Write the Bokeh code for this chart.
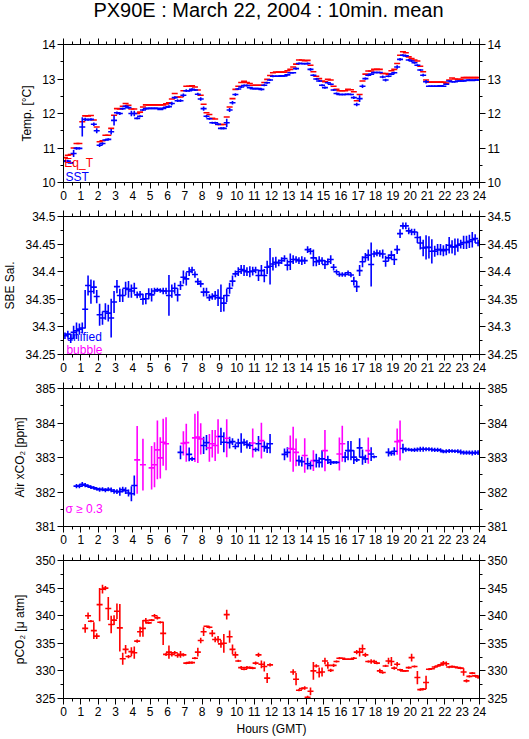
import numpy as np
from bokeh.plotting import figure
from bokeh.models import LinearAxis, FixedTicker, Label, ColumnDataSource, Range1d, Div
from bokeh.layouts import column
from bokeh.embed import file_html
from bokeh.resources import INLINE

nan = float("nan")
FONT = "Liberation Sans"
BLUE, RED, MAGENTA = "#0000ff", "#ff0000", "#ff00ff"

title_text = "PX90E : March 22, 2004 : 10min. mean"
x_title = "Hours (GMT)"

# centres of the 10-minute bins (minutes after 00:00 GMT)
bin_centre_min = list(range(5, 1440, 10))

hour_ticks = list(range(25))
hour_minor_ticks = [0.5, 1.5, 2.5, 3.5, 4.5, 5.5, 6.5, 7.5, 8.5, 9.5, 10.5, 11.5,
                    12.5, 13.5, 14.5, 15.5, 16.5, 17.5, 18.5, 19.5, 20.5, 21.5, 22.5, 23.5]

temp_ticks = [10, 11, 12, 13, 14]
temp_minor = [10.5, 11.5, 12.5, 13.5]
temp_labels = ["10", "11", "12", "13", "14"]
sal_ticks = [34.25, 34.3, 34.35, 34.4, 34.45, 34.5]
sal_minor = [34.275, 34.325, 34.375, 34.425, 34.475]
sal_labels = ["34.25", "34.3", "34.35", "34.4", "34.45", "34.5"]
xco2_ticks = [381, 382, 383, 384, 385]
xco2_minor = [381.5, 382.5, 383.5, 384.5]
xco2_labels = ["381", "382", "383", "384", "385"]
pco2_ticks = [325, 330, 335, 340, 345, 350]
pco2_minor = [327.5, 332.5, 337.5, 342.5, 347.5]
pco2_labels = ["325", "330", "335", "340", "345", "350"]

# ---- Panel 1 : temperatures (one row per hour, 6 ten-minute bins) ----
eq_t = [
    10.72, 10.79, 10.81, 11.00, 11.13, 11.13,
    11.76, 11.93, 11.93, 11.94, 11.81, 11.61,
    11.18, 11.21, 11.37, 11.37, 11.57, 11.95,
    12.14, 12.13, 12.21, 12.29, 12.24, 12.13,
    12.13, 12.00, 12.04, 12.19, 12.25, 12.25,
    12.25, 12.25, 12.25, 12.25, 12.25, 12.28,
    12.31, 12.42, 12.58, 12.48, 12.48, 12.66,
    12.79, 12.79, 12.80, 12.77, 12.68, 12.53,
    12.27, 12.02, 11.97, 11.86, 11.84, 11.68,
    11.68, 11.68, 11.90, 12.19, 12.43, 12.70,
    12.79, 12.90, 12.93, 12.90, 12.87, 12.82,
    12.82, 12.82, 12.82, 12.90, 12.99, 13.10,
    13.18, 13.20, 13.20, 13.20, 13.20, 13.24,
    13.28, 13.35, 13.43, 13.55, 13.55, 13.53,
    13.54, 13.40, 13.21, 13.08, 13.01, 12.94,
    12.92, 12.99, 12.97, 12.79, 12.70, 12.66,
    12.66, 12.66, 12.70, 12.69, 12.63, 12.37,
    12.55, 12.94, 13.14, 13.23, 13.23, 13.28,
    13.28, 13.28, 13.16, 13.16, 13.14, 13.24,
    13.28, 13.45, 13.69, 13.79, 13.76, 13.64,
    13.59, 13.55, 13.52, 13.37, 13.21, 12.97,
    12.91, 12.91, 12.91, 12.91, 12.91, 12.91,
    12.88, 12.97, 13.03, 13.00, 12.99, 12.99,
    13.04, 13.04, 13.04, 13.04, 13.04, 13.04,
]
sst = [
    10.62, 10.62, 10.57, 10.84, 10.99, 10.99,
    11.61, 11.83, 11.82, 11.83, 11.69, 11.50,
    11.08, 11.13, 11.23, 11.25, 11.47, 11.80,
    12.02, 12.00, 12.14, 12.21, 12.17, 12.00,
    12.00, 11.86, 11.92, 12.10, 12.14, 12.15,
    12.15, 12.15, 12.15, 12.12, 12.15, 12.18,
    12.20, 12.29, 12.46, 12.37, 12.37, 12.53,
    12.66, 12.66, 12.70, 12.68, 12.56, 12.42,
    12.14, 11.92, 11.85, 11.73, 11.73, 11.69,
    11.57, 11.57, 11.73, 12.10, 12.31, 12.55,
    12.71, 12.77, 12.81, 12.81, 12.75, 12.72,
    12.72, 12.72, 12.70, 12.82, 12.89, 12.97,
    13.08, 13.08, 13.08, 13.09, 13.09, 13.12,
    13.18, 13.18, 13.30, 13.45, 13.45, 13.44,
    13.45, 13.28, 13.11, 13.00, 12.94, 12.82,
    12.75, 12.89, 12.85, 12.68, 12.58, 12.55,
    12.55, 12.55, 12.56, 12.55, 12.46, 12.26,
    12.43, 12.79, 13.01, 13.11, 13.14, 13.19,
    13.19, 13.19, 13.06, 12.97, 13.08, 13.14,
    13.18, 13.35, 13.57, 13.69, 13.67, 13.55,
    13.52, 13.47, 13.40, 13.26, 13.11, 12.92,
    12.79, 12.79, 12.79, 12.79, 12.80, 12.79,
    12.85, 12.94, 12.92, 12.92, 12.94, 12.94,
    12.94, 12.96, 12.97, 12.96, 12.97, 12.97,
]
sst_sd = [
    0.03, 0.04, 0.03, 0.10, 0.04, 0.03,
    0.28, 0.05, 0.03, 0.03, 0.05, 0.07,
    0.05, 0.04, 0.03, 0.03, 0.08, 0.15,
    0.04, 0.04, 0.03, 0.04, 0.03, 0.08,
    0.08, 0.03, 0.03, 0.03, 0.03, 0.02,
    0.02, 0.02, 0.02, 0.02, 0.03, 0.03,
    0.04, 0.05, 0.04, 0.04, 0.04, 0.05,
    0.04, 0.03, 0.03, 0.03, 0.04, 0.05,
    0.06, 0.04, 0.03, 0.03, 0.03, 0.03,
    0.03, 0.03, 0.12, 0.06, 0.05, 0.04,
    0.03, 0.03, 0.03, 0.03, 0.02, 0.02,
    0.02, 0.02, 0.03, 0.03, 0.03, 0.03,
    0.03, 0.02, 0.02, 0.02, 0.02, 0.02,
    0.02, 0.02, 0.03, 0.03, 0.02, 0.02,
    0.03, 0.04, 0.03, 0.03, 0.03, 0.03,
    0.03, 0.03, 0.03, 0.03, 0.03, 0.02,
    0.02, 0.02, 0.02, 0.02, 0.04, 0.05,
    0.10, 0.05, 0.03, 0.03, 0.02, 0.02,
    0.02, 0.02, 0.04, 0.04, 0.03, 0.03,
    0.03, 0.05, 0.04, 0.03, 0.03, 0.03,
    0.03, 0.03, 0.03, 0.03, 0.04, 0.05,
    0.02, 0.02, 0.02, 0.02, 0.02, 0.02,
    0.02, 0.02, 0.02, 0.02, 0.02, 0.02,
    0.02, 0.02, 0.02, 0.02, 0.02, 0.02,
]

# ---- Panel 2 : SBE salinity ----
sal = [
    34.284, 34.287, 34.279, 34.290, 34.293, 34.296,
    34.298, 34.332, 34.375, 34.364, 34.372, 34.355,
    34.322, 34.316, 34.328, 34.325, 34.316, 34.345,
    34.373, 34.357, 34.357, 34.370, 34.368, 34.365,
    34.370, 34.358, 34.359, 34.350, 34.351, 34.360,
    34.358, 34.365, 34.367, 34.366, 34.365, 34.365,
    34.357, 34.365, 34.370, 34.358, 34.375, 34.390,
    34.387, 34.400, 34.403, 34.395, 34.382, 34.378,
    34.363, 34.363, 34.353, 34.355, 34.357, 34.353,
    34.352, 34.343, 34.357, 34.370, 34.383, 34.396,
    34.400, 34.404, 34.402, 34.400, 34.400, 34.401,
    34.403, 34.393, 34.402, 34.393, 34.408, 34.410,
    34.414, 34.417, 34.416, 34.420, 34.424, 34.412,
    34.418, 34.422, 34.422, 34.420, 34.420, 34.420,
    34.440, 34.437, 34.425, 34.418, 34.420, 34.420,
    34.413, 34.418, 34.422, 34.408, 34.400, 34.395,
    34.395, 34.395, 34.398, 34.394, 34.383, 34.373,
    34.402, 34.418, 34.426, 34.430, 34.413, 34.432,
    34.434, 34.433, 34.432, 34.419, 34.425, 34.430,
    34.422, 34.440, 34.469, 34.483, 34.483, 34.474,
    34.472, 34.472, 34.462, 34.452, 34.443, 34.444,
    34.444, 34.437, 34.437, 34.440, 34.440, 34.438,
    34.440, 34.448, 34.445, 34.445, 34.448, 34.450,
    34.453, 34.453, 34.455, 34.458, 34.460, 34.452,
]
sal_sd = [
    0.006, 0.006, 0.008, 0.012, 0.015, 0.010,
    0.010, 0.035, 0.018, 0.022, 0.012, 0.012,
    0.020, 0.012, 0.015, 0.015, 0.035, 0.020,
    0.012, 0.012, 0.012, 0.012, 0.015, 0.012,
    0.010, 0.006, 0.006, 0.010, 0.010, 0.010,
    0.012, 0.006, 0.004, 0.004, 0.006, 0.006,
    0.037, 0.012, 0.010, 0.012, 0.008, 0.012,
    0.012, 0.008, 0.006, 0.006, 0.006, 0.006,
    0.008, 0.008, 0.006, 0.006, 0.008, 0.015,
    0.025, 0.015, 0.012, 0.010, 0.010, 0.006,
    0.008, 0.008, 0.010, 0.008, 0.010, 0.008,
    0.006, 0.010, 0.010, 0.012, 0.012, 0.033,
    0.012, 0.010, 0.006, 0.006, 0.006, 0.010,
    0.015, 0.008, 0.006, 0.006, 0.008, 0.006,
    0.006, 0.006, 0.015, 0.008, 0.008, 0.006,
    0.008, 0.006, 0.008, 0.006, 0.004, 0.004,
    0.004, 0.004, 0.004, 0.004, 0.008, 0.010,
    0.010, 0.010, 0.008, 0.010, 0.040, 0.006,
    0.006, 0.006, 0.008, 0.010, 0.006, 0.008,
    0.010, 0.008, 0.008, 0.006, 0.006, 0.006,
    0.006, 0.006, 0.010, 0.012, 0.015, 0.022,
    0.020, 0.022, 0.010, 0.010, 0.010, 0.010,
    0.010, 0.015, 0.012, 0.015, 0.012, 0.008,
    0.012, 0.012, 0.012, 0.014, 0.008, 0.006,
]

# ---- Panel 3 : air xCO2 ----
xco2 = [
    nan, nan, nan, nan, 382.17, 382.17,
    382.22, 382.20, 382.17, 382.14, 382.12, 382.09,
    382.07, 382.08, 382.05, 382.08, 382.06, 382.02,
    382.01, 382.01, 382.07, 382.04, 381.97, 381.95,
    382.19, 382.93, nan, 382.79, nan, nan,
    382.70, 382.79, 383.22, 382.99, 383.44, 383.40,
    nan, nan, nan, nan, 383.15, 383.41,
    383.43, 383.09, 382.96, 383.57, 383.59, 383.54,
    383.35, 383.43, 383.28, 383.40, 383.35, 383.61,
    383.61, 383.44, 383.56, 383.43, 383.46, 383.32,
    383.42, 383.42, 383.44, 383.38, 383.35, 383.42,
    383.23, 383.40, 383.49, 383.32, 383.28, 383.40,
    nan, nan, nan, nan, 383.09, 383.15,
    383.26, 383.24, 383.15, 382.91, 382.88, 383.06,
    382.82, 382.77, 382.91, 382.91, 382.86, 382.96,
    383.20, 382.93, 382.86, 382.86, 382.86, 383.10,
    383.40, 383.01, 383.20, 383.20, 383.01, 382.93,
    383.28, 383.01, 382.96, 383.20, 383.10, 383.02,
    nan, nan, nan, nan, 383.15, 383.12,
    383.18, 383.46, 383.49, 383.26, 383.23, 383.23,
    383.22, 383.22, 383.23, 383.24, 383.24, 383.24,
    383.24, 383.23, 383.22, 383.22, 383.21, 383.17,
    383.18, 383.19, 383.19, 383.18, 383.18, 383.16,
    383.14, 383.14, 383.14, 383.13, 383.14, 383.14,
]
xco2_sd = [
    nan, nan, nan, nan, 0.06, 0.06,
    0.07, 0.06, 0.05, 0.05, 0.05, 0.05,
    0.06, 0.06, 0.06, 0.06, 0.07, 0.07,
    0.07, 0.12, 0.08, 0.10, 0.10, 0.22,
    0.29, 0.98, nan, 0.75, nan, nan,
    0.63, 0.65, 0.85, 0.60, 0.68, 0.77,
    nan, nan, nan, nan, 0.20, 0.35,
    0.55, 0.20, 0.06, 0.70, 0.75, 0.45,
    0.25, 0.22, 0.40, 0.40, 0.45, 0.50,
    0.25, 0.29, 0.55, 0.17, 0.10, 0.08,
    0.12, 0.28, 0.10, 0.12, 0.10, 0.42,
    0.06, 0.22, 0.52, 0.15, 0.15, 0.28,
    nan, nan, nan, nan, 0.17, 0.15,
    0.38, 0.65, 0.40, 0.15, 0.14, 0.50,
    0.17, 0.12, 0.30, 0.20, 0.15, 0.25,
    0.60, 0.12, 0.08, 0.04, 0.04, 0.48,
    0.52, 0.15, 0.28, 0.28, 0.20, 0.06,
    0.28, 0.22, 0.12, 0.38, 0.20, 0.04,
    nan, nan, nan, nan, 0.12, 0.07,
    0.12, 0.38, 0.58, 0.14, 0.06, 0.05,
    0.05, 0.06, 0.06, 0.07, 0.07, 0.06,
    0.06, 0.06, 0.06, 0.06, 0.06, 0.05,
    0.06, 0.06, 0.05, 0.05, 0.06, 0.07,
    0.06, 0.06, 0.06, 0.07, 0.07, 0.07,
]
sigma_limit = 0.3

# ---- Panel 4 : seawater pCO2 ----
pco2 = [
    nan, nan, nan, nan, nan, nan,
    nan, 337.7, 340.0, 339.0, 337.3, 336.3,
    342.0, 344.8, 345.0, 341.3, 338.4, 339.2,
    340.8, 337.8, 332.2, 333.9, 332.6, 333.5,
    333.3, 335.4, 337.1, 337.7, 339.1, 338.7,
    339.2, 340.0, 339.6, 338.8, 336.8, 333.0,
    333.4, 333.0, 333.3, 332.8, 333.0, 332.9,
    331.4, 331.5, 331.5, 332.3, 333.4, 335.5,
    337.1, 338.1, 337.9, 336.8, 335.7, 335.7,
    334.9, 335.0, 340.2, 336.2, 333.9, 332.9,
    331.8, 330.6, 330.3, 330.6, 330.6, 330.5,
    331.4, 332.9, 331.2, 330.8, 328.7, 331.1,
    nan, nan, nan, nan, nan, nan,
    nan, 329.8, 328.5, 326.5, 326.8, 326.9,
    325.2, 326.3, 330.0, 330.9, 329.7, 329.8,
    331.8, 331.0, 330.1, 331.0, 331.7, 332.3,
    332.3, 332.1, 332.1, 332.1, 332.3, 333.4,
    333.4, 334.0, 332.9, 331.7, 331.7, 331.7,
    331.4, 330.0, 329.7, 330.9, 331.8, 331.7,
    330.5, 331.2, 330.2, 330.0, 330.0, 330.6,
    332.4, 330.8, 328.8, 326.6, 326.7, 327.9,
    330.3, 330.4, 330.7, 330.9, 331.1, 331.4,
    331.3, 330.7, 330.8, 330.7, 330.6, 330.5,
    329.8, 328.2, 329.0, 329.6, 329.1, 328.9,
]
pco2_sd = [
    nan, nan, nan, nan, nan, nan,
    nan, 0.8, 0.6, 0.2, 1.5, 0.5,
    3.0, 0.8, 0.4, 2.1, 1.6, 0.9,
    1.4, 4.3, 1.1, 0.8, 0.3, 0.8,
    1.1, 0.3, 0.9, 1.5, 0.5, 0.2,
    0.2, 0.3, 0.3, 0.2, 2.1, 0.3,
    1.2, 0.4, 0.3, 0.4, 0.6, 0.3,
    0.2, 0.2, 0.2, 0.2, 0.8, 0.5,
    0.8, 0.1, 0.2, 0.6, 0.5, 0.6,
    0.7, 1.7, 0.9, 1.1, 0.9, 0.6,
    0.2, 0.3, 0.2, 0.3, 0.2, 0.2,
    0.3, 0.4, 0.7, 0.9, 0.9, 0.3,
    nan, nan, nan, nan, nan, nan,
    nan, 0.5, 1.1, 0.2, 0.2, 0.3,
    0.3, 0.7, 1.6, 0.3, 0.9, 0.8,
    0.6, 0.6, 0.3, 0.3, 0.2, 0.2,
    0.1, 0.1, 0.1, 0.1, 0.2, 0.4,
    0.8, 0.8, 0.4, 0.2, 0.4, 0.3,
    0.2, 0.4, 0.2, 0.2, 0.6, 0.8,
    0.3, 0.4, 0.2, 0.1, 0.1, 0.2,
    0.7, 0.2, 1.2, 0.2, 0.2, 1.2,
    0.2, 0.1, 0.2, 0.2, 0.2, 0.4,
    0.4, 0.2, 0.2, 0.1, 0.1, 0.2,
    0.7, 0.3, 0.2, 0.2, 0.2, 0.3,
]

hours = np.array(bin_centre_min, dtype=float) / 60.0


def style_axis(ax, show_labels=True, font_size="12px"):
    ax.axis_line_color = "black"
    ax.axis_line_width = 1
    ax.major_tick_line_color = "black"
    ax.minor_tick_line_color = "black"
    ax.major_tick_in = 0
    ax.major_tick_out = 6
    ax.minor_tick_in = 0
    ax.minor_tick_out = 3
    ax.major_label_text_font = FONT
    ax.major_label_text_color = "black"
    ax.axis_label_text_font = FONT
    ax.axis_label_text_font_size = "12px"
    ax.axis_label_text_font_style = "normal"
    ax.axis_label_text_color = "black"
    if show_labels:
        ax.major_label_standoff = 2
        ax.major_label_text_font_size = font_size
    else:
        ax.major_label_standoff = 0
        ax.major_label_text_font_size = "1px"
        ax.major_label_text_color = None


LEFT, FRAME_W, RIGHT, FRAME_H = 58, 421, 50, 138
TITLE_H = 20


def make_panel(y_lo, y_hi, yticks, yminor, ylabels, ytitle, top, bottom,
               xtitle=None, ytitle_standoff=5, xtitle_standoff=3):
    p = figure(width=LEFT + FRAME_W + RIGHT, height=top + FRAME_H + bottom,
               x_range=Range1d(0, 24), y_range=Range1d(y_lo, y_hi),
               x_axis_type=None, y_axis_type=None,
               output_backend="svg", toolbar_location=None,
               min_border_left=LEFT, min_border_right=RIGHT,
               min_border_top=top, min_border_bottom=bottom,
               background_fill_color="white", border_fill_color="white")
    p.outline_line_color = "black"
    p.outline_line_width = 1
    overrides = dict(zip(yticks, ylabels))
    xt = FixedTicker(ticks=hour_ticks, minor_ticks=hour_minor_ticks)
    yt = FixedTicker(ticks=yticks, minor_ticks=yminor)

    xb = LinearAxis(ticker=xt)
    style_axis(xb, True, "12px")
    if xtitle:
        xb.axis_label = xtitle
        xb.axis_label_standoff = xtitle_standoff
    p.add_layout(xb, "below")
    xa = LinearAxis(ticker=xt)
    style_axis(xa, False)
    p.add_layout(xa, "above")

    yl = LinearAxis(ticker=yt, axis_label=ytitle, major_label_overrides=overrides)
    style_axis(yl, True, "12px")
    yl.axis_label_standoff = ytitle_standoff
    p.add_layout(yl, "left")
    yr = LinearAxis(ticker=yt, major_label_overrides=overrides)
    style_axis(yr, True, "12px")
    p.add_layout(yr, "right")
    return p


def draw_marks(p, vals, sds, colors, with_bars=True):
    v = np.array(vals, dtype=float)
    src = ColumnDataSource(dict(t=hours, v=v, c=colors))
    if with_bars:
        s = np.array(sds, dtype=float)
        src.data["lo"] = v - s
        src.data["hi"] = v + s
        p.segment(x0="t", y0="lo", x1="t", y1="hi", line_color="c",
                  line_width=1.6, source=src)
    p.scatter(x="t", y="v", marker="dash", size=6, line_color="c",
              line_width=1.6, source=src)


def add_text(p, x, y, text, color):
    p.add_layout(Label(x=x, y=y, text=text, text_color=color, text_font=FONT,
                       text_font_size="12px", text_baseline="alphabetic"))


n = len(bin_centre_min)

# Page title (centred over the plotting frames)
title_div = Div(text=title_text, width=LEFT + FRAME_W + RIGHT, height=TITLE_H,
                margin=(0, 0, 0, 0),
                styles={"font-family": FONT, "font-size": "20px",
                        "line-height": "20px", "text-align": "center",
                        "text-indent": "8px", "color": "black",
                        "white-space": "nowrap", "overflow": "visible"})

# Panel 1
p1 = make_panel(10, 14, temp_ticks, temp_minor, temp_labels, "Temp. [°C]",
                top=44 - TITLE_H, bottom=24)
draw_marks(p1, eq_t, None, [RED] * n, with_bars=False)
draw_marks(p1, sst, sst_sd, [BLUE] * n)
add_text(p1, 0.05, 10.565, "Eq_T", RED)
add_text(p1, 0.12, 10.145, "SST", BLUE)

# Panel 2
p2 = make_panel(34.25, 34.5, sal_ticks, sal_minor, sal_labels, "SBE Sal.",
                top=10, bottom=24, ytitle_standoff=5)
draw_marks(p2, sal, sal_sd, [BLUE] * n)
add_text(p2, 0.17, 34.2826, "unified", BLUE)
add_text(p2, 0.17, 34.259, "bubble", MAGENTA)

# Panel 3
p3 = make_panel(381, 385, xco2_ticks, xco2_minor, xco2_labels, "Air xCO₂ [ppm]",
                top=10, bottom=24)
xco2_colors = [MAGENTA if (s == s and s >= sigma_limit) else BLUE for s in xco2_sd]
draw_marks(p3, xco2, xco2_sd, xco2_colors)
add_text(p3, 0.11, 381.52, "σ ≥ 0.3", MAGENTA)

# Panel 4
p4 = make_panel(325, 350, pco2_ticks, pco2_minor, pco2_labels, "pCO₂ [μ atm]",
                top=10, bottom=40, xtitle=x_title, xtitle_standoff=3)
draw_marks(p4, pco2, pco2_sd, [RED] * n)

layout = column(title_div, p1, p2, p3, p4, spacing=0)
open("out.html", "w").write(file_html(layout, INLINE, title=title_text))
